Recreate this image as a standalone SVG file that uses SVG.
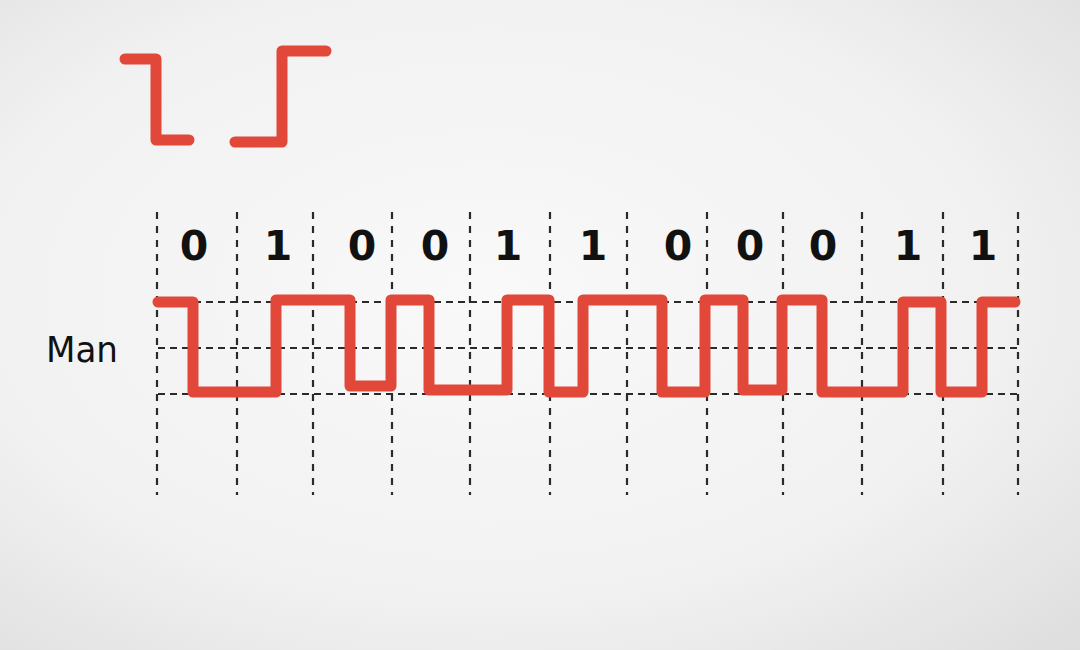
<svg xmlns="http://www.w3.org/2000/svg" width="1080" height="650" viewBox="0 0 1080 650">
<defs>
<radialGradient id="bg" cx="0.45" cy="0.45" r="0.8">
<stop offset="0" stop-color="#f9f9f9"/>
<stop offset="0.6" stop-color="#f1f1f1"/>
<stop offset="1" stop-color="#dcdcdc"/>
</radialGradient>
<style>
.v{stroke:#2a2a2a;stroke-width:2.2;stroke-dasharray:7 7;fill:none}
.h{stroke:#2a2a2a;stroke-width:2.2;stroke-dasharray:7 5;fill:none}
.sig{stroke:#e2483a;stroke-width:11;fill:none;stroke-linejoin:round;stroke-linecap:round}
.bit{font-family:"DejaVu Sans",Verdana,sans-serif;font-weight:bold;font-size:41px;fill:#111;text-anchor:middle}
.lbl{font-family:"DejaVu Sans",Verdana,sans-serif;font-size:36px;fill:#111}
</style>
</defs>
<rect width="1080" height="650" fill="url(#bg)"/>
<g id="icons">
<path class="sig" d="M125,59 H156 V140 H189"/>
<path class="sig" d="M235,142 H282 V51 H326"/>
</g>
<g id="grid">
<path class="v" d="M157,212V495M237,212V495M313,212V495M392,212V495M470,212V495M550,212V495M627,212V495M707,212V495M783,212V495M862,212V495M943,212V495M1018,212V495"/>
<path class="h" d="M158,302H1020M158,348H1020M158,394H1020"/>
</g>
<g id="bits">
<text class="bit" x="194" y="260">0</text>
<text class="bit" x="278" y="260">1</text>
<text class="bit" x="362" y="260">0</text>
<text class="bit" x="435" y="260">0</text>
<text class="bit" x="508" y="260">1</text>
<text class="bit" x="593" y="260">1</text>
<text class="bit" x="678" y="260">0</text>
<text class="bit" x="750" y="260">0</text>
<text class="bit" x="823" y="260">0</text>
<text class="bit" x="908" y="260">1</text>
<text class="bit" x="983" y="260">1</text>
</g>
<g id="label">
<text class="lbl" x="46" y="362" textLength="72" lengthAdjust="spacingAndGlyphs">Man</text>
</g>
<g id="waveform">
<path class="sig" d="M158,302 H193 V392 H276 V300 H350 V386 H391 V300 H429 V390 H507 V300 H549 V392 H583 V300 H662 V392 H705 V300 H743 V390 H782 V300 H822 V392 H903 V302 H941 V392 H982 V302 H1015"/>
</g>
</svg>
